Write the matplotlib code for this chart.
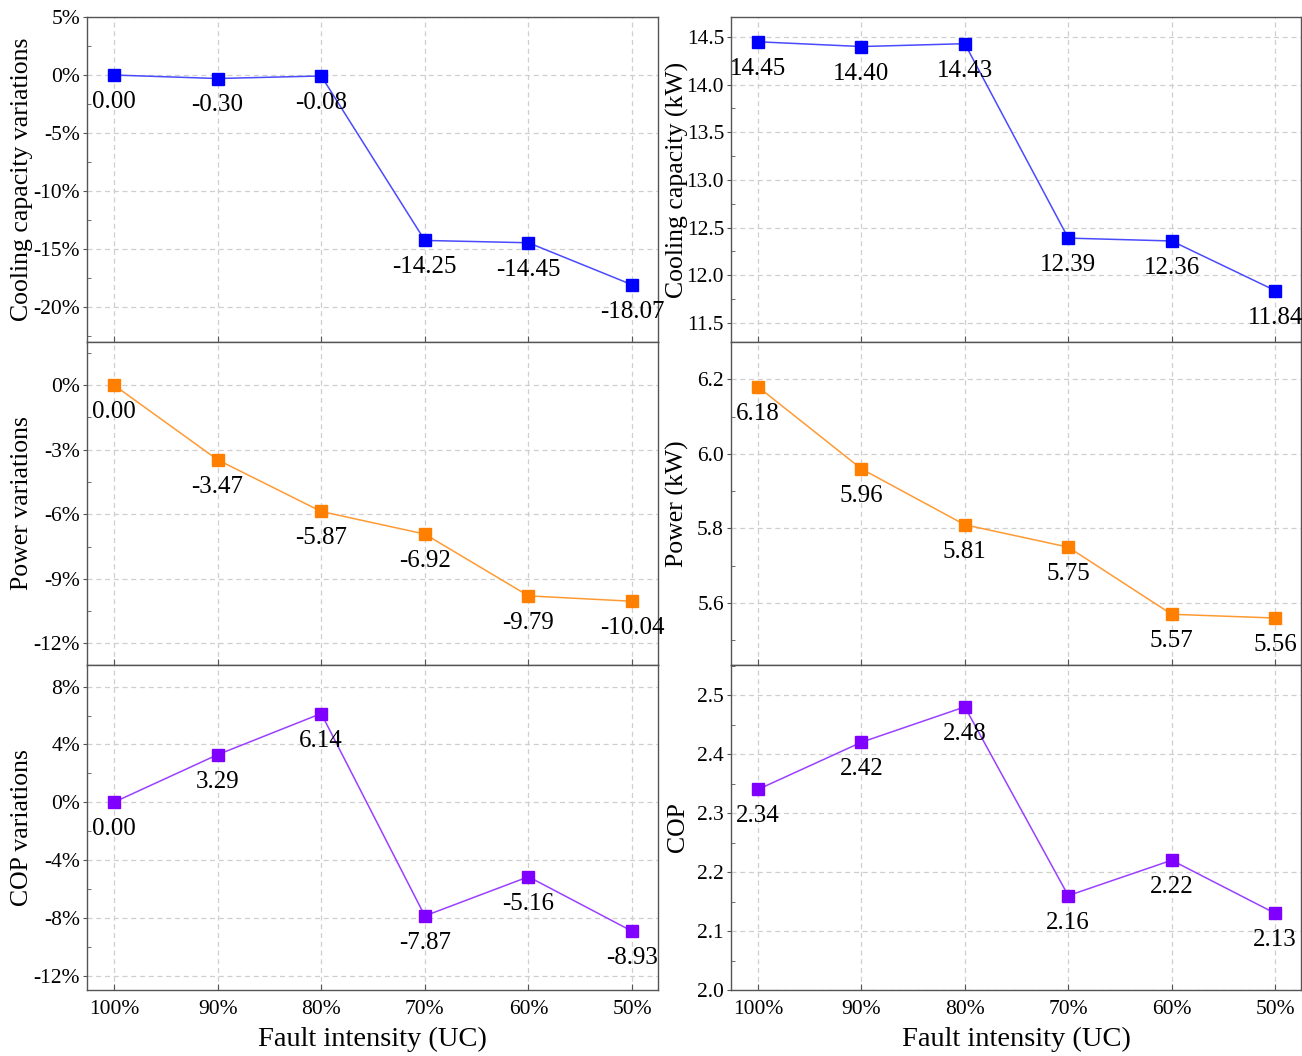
import matplotlib.pyplot as plt
from matplotlib.ticker import MultipleLocator, FuncFormatter

plt.rcParams['font.family'] = ['Liberation Serif', 'DejaVu Serif']
plt.rcParams['axes.unicode_minus'] = False

fault = ["100%", "90%", "80%", "70%", "60%", "50%"]

cap_var = [0.00, -0.30, -0.08, -14.25, -14.45, -18.07]
pow_var = [0.00, -3.47, -5.87, -6.92, -9.79, -10.04]
cop_var = [0.00, 3.29, 6.14, -7.87, -5.16, -8.93]

cap = [14.45, 14.40, 14.43, 12.39, 12.36, 11.84]
power = [6.18, 5.96, 5.81, 5.75, 5.57, 5.56]
cop = [2.34, 2.42, 2.48, 2.16, 2.22, 2.13]

blue = ("#0000ff", "#4a4aff")
orange = ("#ff8000", "#ff9a33")
purple = ("#8000ff", "#9a40ff")

W, H = 1302, 1056
fig = plt.figure(figsize=(W / 100, H / 100), dpi=100)

rows = [(17, 342), (342, 665), (665, 990)]
cols = [(87, 658), (731, 1301)]


def make_ax(col, row):
    x0, x1 = cols[col]
    y0, y1 = rows[row]
    return fig.add_axes([x0 / W, (H - y1) / H, (x1 - x0) / W, (y1 - y0) / H])


pct = FuncFormatter(lambda v, p: "%d%%" % round(v))

panels = [
    # col, row, data, colours, ylabel, ylim, major, minor, formatter
    (0, 0, cap_var, blue, "Cooling capacity variations", (-23, 5), 5, 2.5, pct),
    (0, 1, pow_var, orange, "Power variations", (-13, 2), 3, 1.5, pct),
    (0, 2, cop_var, purple, "COP variations", (-13, 9.5), 4, 2, pct),
    (1, 0, cap, blue, "Cooling capacity (kW)", (11.3, 14.71), 0.5, 0.25, None),
    (1, 1, power, orange, "Power (kW)", (5.434, 6.30), 0.2, 0.1, None),
    (1, 2, cop, purple, "COP", (2.0, 2.551), 0.1, 0.05, None),
]

x = list(range(len(fault)))

for col, row, vals, (mc, lc), ylab, ylim, maj, mnr, fmt in panels:
    ax = make_ax(col, row)
    ax.plot(x, vals, color=lc, lw=1.1, zorder=2)
    ax.plot(x, vals, ls="none", marker="s", ms=9, color=mc, zorder=3)
    for xi, v in zip(x, vals):
        ax.annotate("%.2f" % v, (xi, v), xytext=(0, -11.5), textcoords="offset points",
                    ha="center", va="top", fontsize=18, zorder=4)
    ax.set_xlim(-0.26, 5.25)
    ax.set_ylim(*ylim)
    ax.yaxis.set_major_locator(MultipleLocator(maj))
    ax.yaxis.set_minor_locator(MultipleLocator(mnr))
    if fmt is not None:
        ax.yaxis.set_major_formatter(fmt)
    ax.set_xticks(x)
    if row == 2:
        ax.set_xticklabels(fault)
        ax.set_xlabel("Fault intensity (UC)", fontsize=20.5, labelpad=6)
    else:
        ax.set_xticklabels([])
    ax.grid(True, ls=(0, (4, 3)), color="#cfcfcf", lw=0.9)
    ax.set_axisbelow(True)
    ax.tick_params(axis="y", which="major", direction="out", length=3, labelsize=15.5,
                   color="#555555", pad=2)
    ax.tick_params(axis="y", which="minor", direction="in", length=3, color="#555555")
    ax.tick_params(axis="x", which="major", direction="in", length=4, labelsize=15.5,
                   color="#555555", pad=7)
    for s in ax.spines.values():
        s.set_color("#555555")
        s.set_linewidth(1.0)
    ax.set_ylabel(ylab, fontsize=18.5)
    ax.yaxis.set_label_coords(-0.095 if col == 0 else -0.073, 0.5)

fig.savefig("out.png", dpi=100)
